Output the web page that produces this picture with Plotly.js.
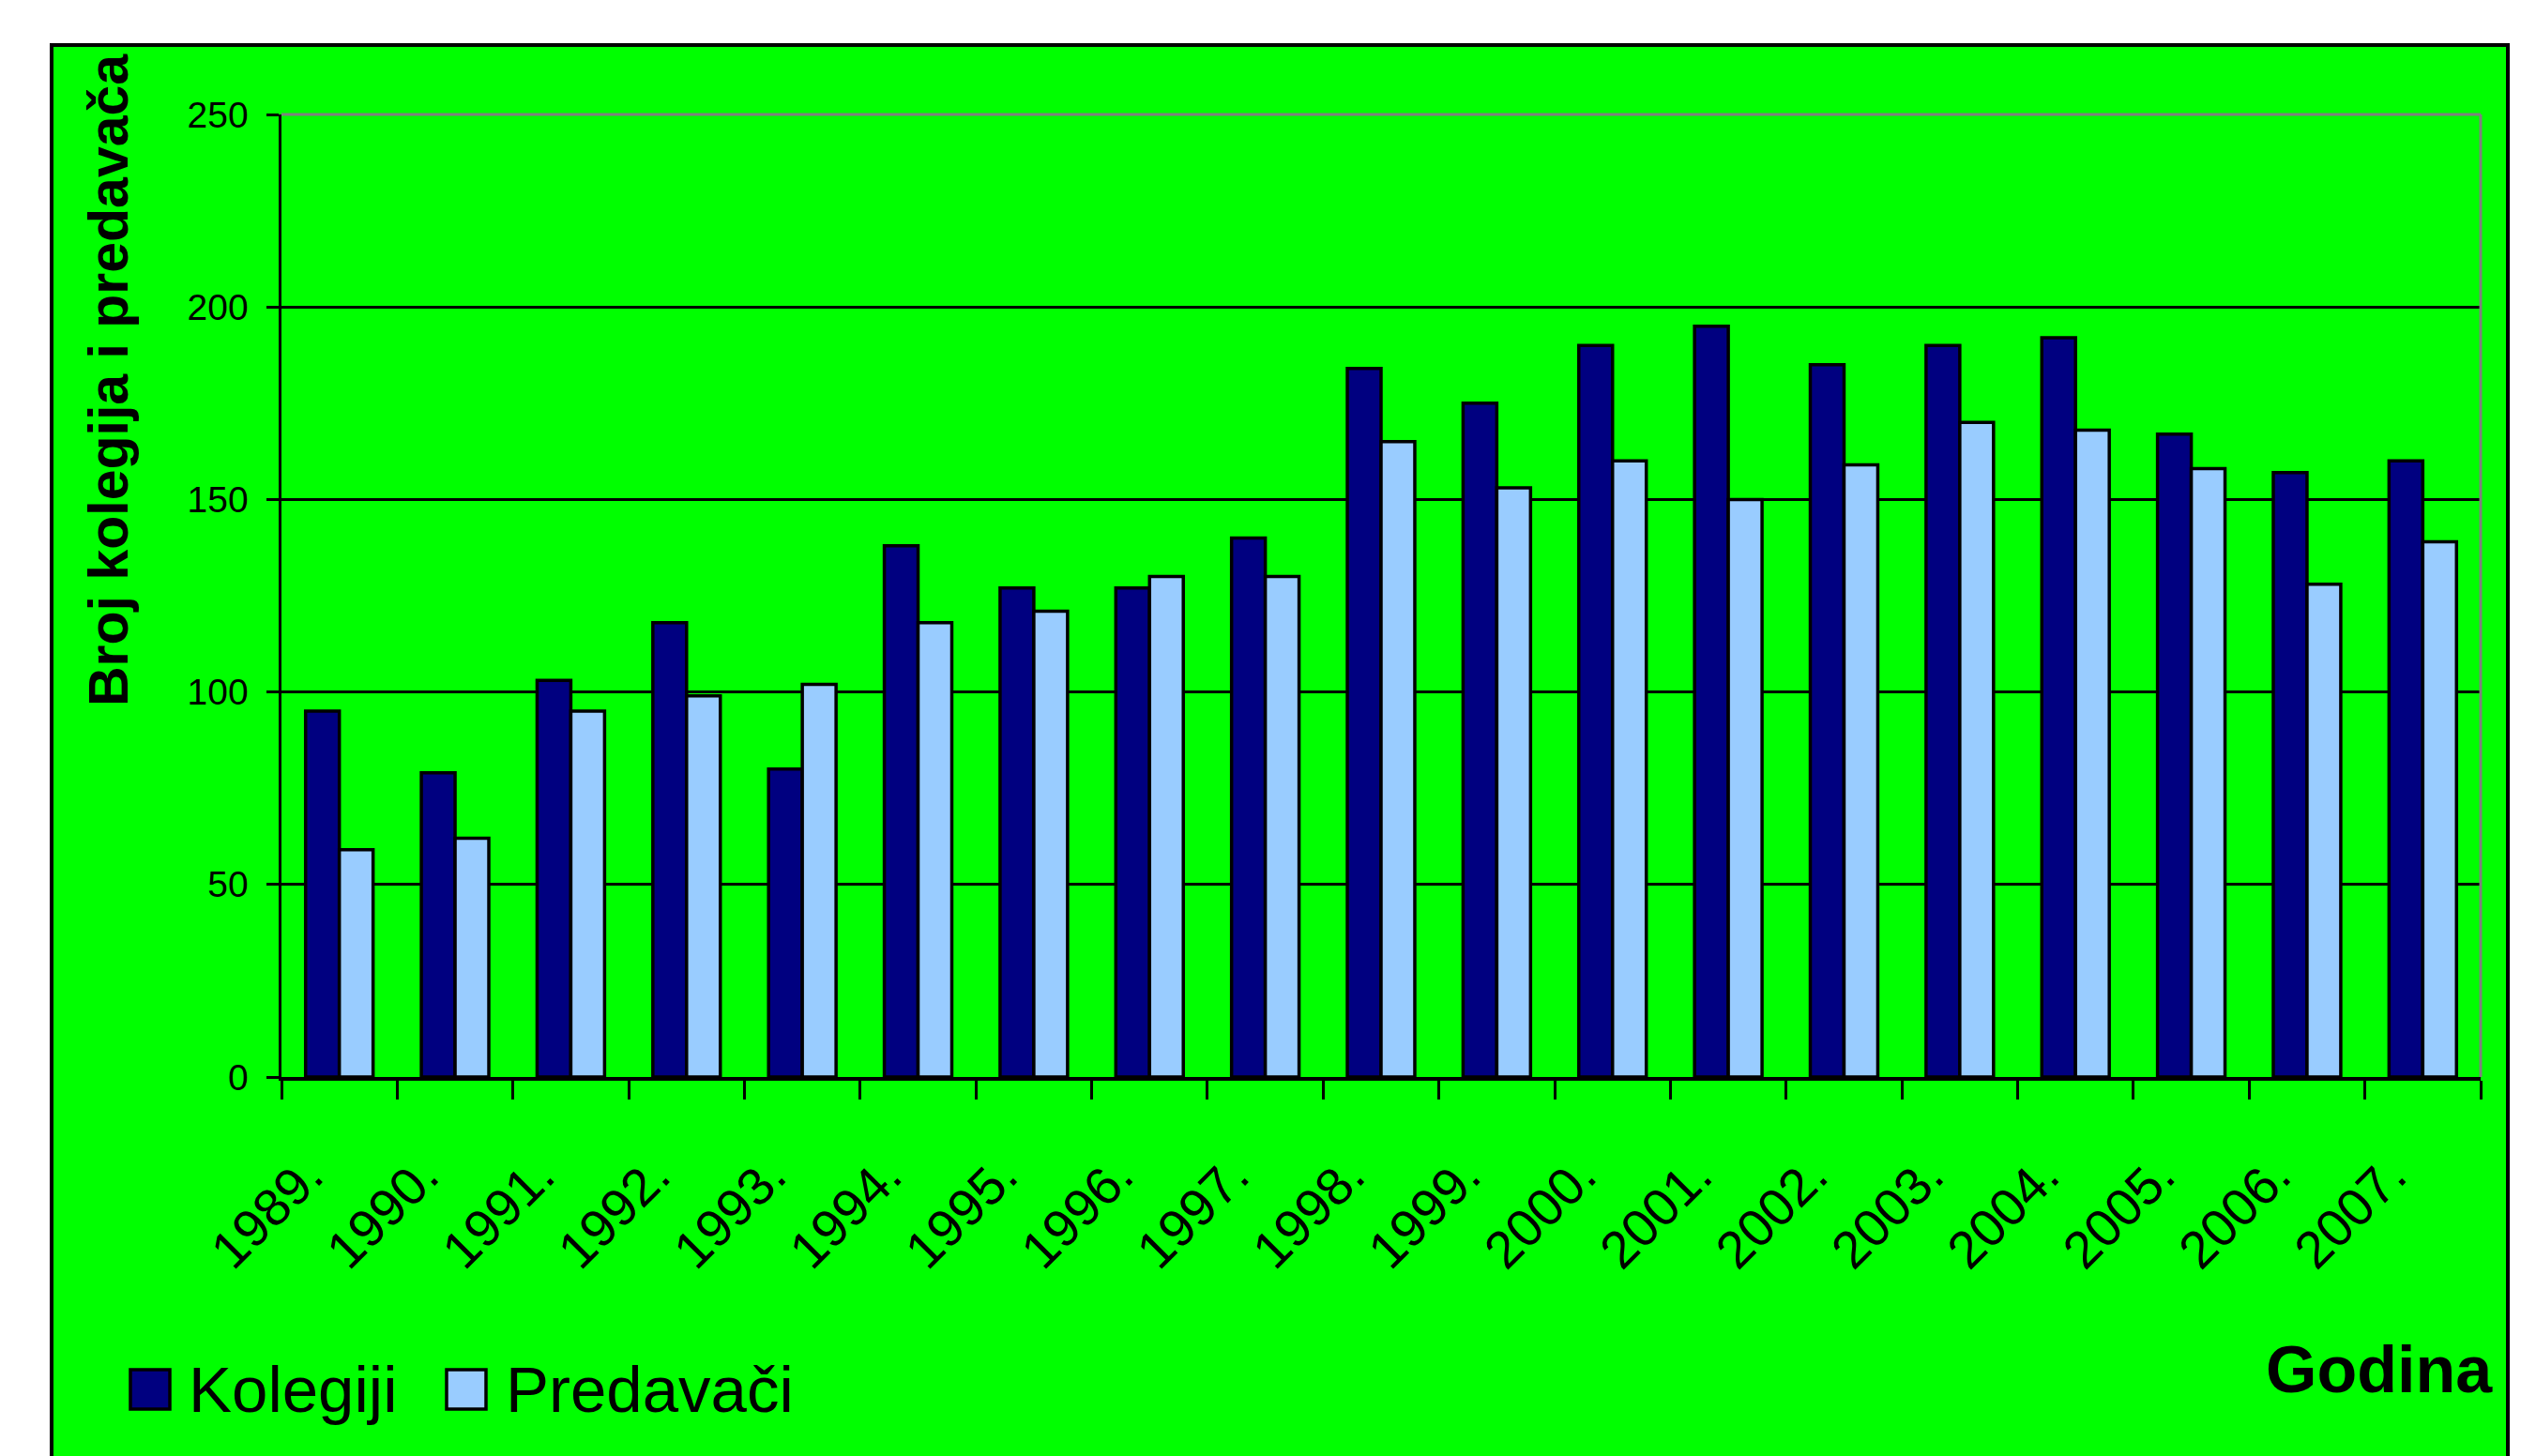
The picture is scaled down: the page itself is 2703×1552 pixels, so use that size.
<!DOCTYPE html>
<html>
<head>
<meta charset="utf-8">
<script src="https://cdn.plot.ly/plotly-3.0.1.min.js"></script>
<style>html,body{margin:0;padding:0;background:#fff;}#chart{width:2703px;height:1552px;}</style>
</head>
<body>
<div id="chart"></div>
<script>
// ---- data ----
const years = ['1989.','1990.','1991.','1992.','1993.','1994.','1995.','1996.','1997.','1998.','1999.','2000.','2001.','2002.','2003.','2004.','2005.','2006.','2007.'];
const kolegiji = [95, 79, 103, 118, 80, 138, 127, 127, 140, 184, 175, 190, 195, 185, 190, 192, 167, 157, 160];
const predavaci = [59, 62, 95, 99, 102, 118, 121, 130, 130, 165, 153, 160, 150, 159, 170, 168, 158, 128, 139];
const seriesNames = ['Kolegiji', 'Predavači'];
const yTitle = 'Broj kolegija i predavača';
const xTitle = 'Godina';

// ---- geometry ----
const W = 2703, H = 1552;
const L = 300, R = 2644, T = 122, B = 1148;
const px = x => (x - L) / (R - L);
const py = y => (B - y) / (B - T);
const FONT = 'Liberation Sans, Arial, sans-serif';
const colK = '#000080', colP = '#99CCFF';

const traces = [
  {type:'bar', name:seriesNames[0], x:years, y:kolegiji,
   marker:{color:colK, line:{color:'#000', width:3.5}}, hoverinfo:'x+y+name'},
  {type:'bar', name:seriesNames[1], x:years, y:predavaci,
   marker:{color:colP, line:{color:'#000', width:3.5}}, hoverinfo:'x+y+name'}
];

const shapes = [
  // outer green frame
  {type:'rect', xref:'paper', yref:'paper', layer:'below',
   x0:px(55), x1:px(2673), y0:py(1620), y1:py(48),
   fillcolor:'#00FF00', line:{color:'#000', width:4}},
  // gray plot border top & right
  {type:'line', xref:'paper', yref:'paper', layer:'above', x0:0, x1:1, y0:1, y1:1, line:{color:'#808080', width:3}},
  {type:'line', xref:'paper', yref:'paper', layer:'above', x0:1, x1:1, y0:0, y1:1, line:{color:'#808080', width:3}},
  // legend swatches
  {type:'rect', xref:'paper', yref:'paper', layer:'above', x0:px(139), x1:px(181), y0:py(1502), y1:py(1460),
   fillcolor:colK, line:{color:'#000', width:3.5}},
  {type:'rect', xref:'paper', yref:'paper', layer:'above', x0:px(476), x1:px(518), y0:py(1502), y1:py(1460),
   fillcolor:colP, line:{color:'#000', width:3.5}}
];

const annotations = [
  {xref:'paper', yref:'paper', x:px(116), y:py(405), text:'<b>'+yTitle+'</b>', textangle:-90,
   showarrow:false, xanchor:'center', yanchor:'middle', font:{family:FONT, size:59, color:'#000'}},
  {xref:'paper', yref:'paper', x:px(2659), y:py(1460), text:'<b>'+xTitle+'</b>',
   showarrow:false, xanchor:'right', yanchor:'middle', font:{family:FONT, size:70, color:'#000'}},
  {xref:'paper', yref:'paper', x:px(199), y:py(1481), text:seriesNames[0],
   showarrow:false, xanchor:'left', yanchor:'middle', font:{family:FONT, size:69, color:'#000'}},
  {xref:'paper', yref:'paper', x:px(537), y:py(1481), text:seriesNames[1],
   showarrow:false, xanchor:'left', yanchor:'middle', font:{family:FONT, size:69, color:'#000'}}
];

const layout = {
  width:W, height:H,
  margin:{l:L, r:W-R, t:T, b:H-B, pad:0},
  paper_bgcolor:'#ffffff', plot_bgcolor:'rgba(0,0,0,0)',
  font:{family:FONT, color:'#000'},
  showlegend:false,
  barmode:'group', bargap:0.417, bargroupgap:0,
  xaxis:{type:'category', showline:true, linecolor:'#000', linewidth:3.5,
         ticks:'outside', tickson:'boundaries', ticklen:20, tickwidth:3, tickcolor:'#000',
         tickangle:-45, tickfont:{family:FONT, size:56, color:'#000'},
         ticklabelstandoff:46, ticklabelshift:-34,
         showgrid:false, zeroline:false, automargin:false, fixedrange:true},
  yaxis:{range:[0,250], tick0:0, dtick:50, showline:true, linecolor:'#000', linewidth:3.5,
         ticks:'outside', ticklen:13, tickwidth:3, tickcolor:'#000',
         tickfont:{family:FONT, size:39, color:'#000'}, ticklabelstandoff:11,
         showgrid:true, gridcolor:'#000', gridwidth:3, zeroline:false, automargin:false, fixedrange:true},
  shapes:shapes, annotations:annotations
};

Plotly.newPlot('chart', traces, layout, {displayModeBar:false, staticPlot:true});
</script>
</body>
</html>
